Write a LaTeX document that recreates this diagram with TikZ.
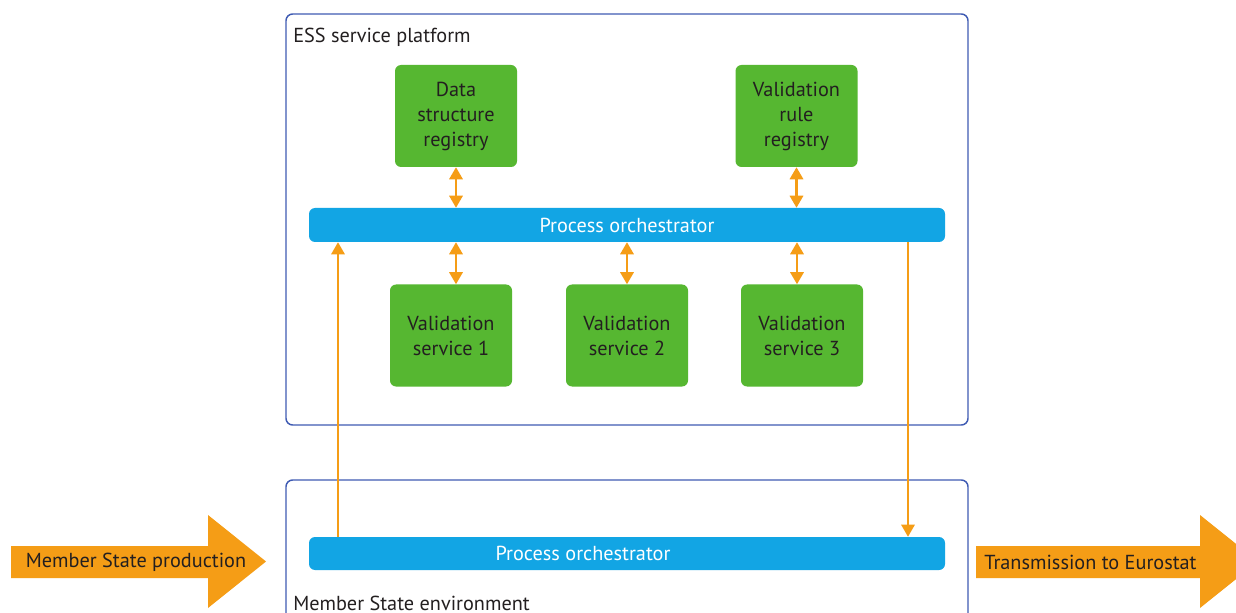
\documentclass[tikz,border=0pt]{standalone}
\usepackage{fontspec}
\setmainfont{PT Sans}
\usetikzlibrary{arrows.meta}
\definecolor{framec}{HTML}{3F5BB3}
\definecolor{grn}{HTML}{56B731}
\definecolor{blu}{HTML}{12A5E4}
\definecolor{org}{HTML}{F59D16}
\definecolor{txt}{HTML}{231F20}
\begin{document}
\begin{tikzpicture}[x=0.75pt,y=-0.75pt,
  font=\fontsize{15.2}{18.75}\selectfont,
  container/.style={draw=framec,line width=1.1pt,rounded corners=5pt,minimum width=511.5pt,inner sep=0pt},
  greenbox/.style={fill=grn,rounded corners=4.5pt,minimum width=91.5pt,minimum height=76.5pt,align=center,text=txt,inner sep=0pt},
  bar/.style={fill=blu,rounded corners=4.5pt,minimum width=477pt,inner sep=0pt},
  lbl/.style={text=txt,inner sep=0pt,anchor=west},
  dbl/.style={draw=org,line width=1.6pt,{Triangle[width=10pt,length=9pt]}-{Triangle[width=10pt,length=9pt]}},
  sgl/.style={draw=org,line width=1.4pt,-{Triangle[width=10pt,length=9pt]}},
  bigarrow/.style={fill=org}]
\clip (0,0) rectangle (1236,613);
\fill[white] (0,0) rectangle (1236,613);
% containers
\node[container,minimum height=308.25pt] (ess) at (627,219.5) {};
\node[container,minimum height=120pt] (ms) at (627,560) {};
\node[lbl] (esslbl) at (293,37) {ESS service platform};
\node[lbl] (mslbl) at (293,603) {Member State environment};
% green boxes
\node[greenbox] (dsr) at (456,116) {Data\\structure\\registry};
\node[greenbox] (vrr) at (796.5,116) {Validation\\rule\\registry};
\node[greenbox] (vs1) at (451,335.5) {Validation\\service 1};
\node[greenbox] (vs2) at (627,335.5) {Validation\\service 2};
\node[greenbox] (vs3) at (802,335.5) {Validation\\service 3};
% bars
\node[bar,minimum height=25.5pt] (orch1) at (627,225) {};
\node[text=white,inner sep=0pt] (orch1t) at (627,225) {Process orchestrator};
\node[bar,minimum height=24.75pt] (orch2) at (627,553.5) {};
\node[text=white,inner sep=0pt] (orch2t) at (583,553.5) {Process orchestrator};
% double arrows
\draw[dbl] (dsr.south) -- (dsr.south |- orch1.north);
\draw[dbl] (vrr.south) -- (vrr.south |- orch1.north);
\draw[dbl] ([xshift=3.75pt]vs1.north) -- ([xshift=3.75pt]vs1.north |- orch1.south);
\draw[dbl] (vs2.north) -- (vs2.north |- orch1.south);
\draw[dbl] ([xshift=-3.75pt]vs3.north) -- ([xshift=-3.75pt]vs3.north |- orch1.south);
% single arrows
\coordinate (upx) at (338,0);
\coordinate (dnx) at (908,0);
\draw[sgl] (upx |- orch2.north) -- (upx |- orch1.south);
\draw[sgl] (dnx |- orch1.south) -- (dnx |- orch2.north);
% big arrows
\fill[bigarrow] (11,546) -- (208,546) -- (208,515) -- (266,561.5) -- (208,608) -- (208,578) -- (11,578) -- cycle;
\node[text=txt,inner sep=0pt] (msprod) at (136,562) {Member State production};
\fill[bigarrow] (976,546) -- (1200,546) -- (1200,515) -- (1258,561.5) -- (1200,608) -- (1200,578) -- (976,578) -- cycle;
\node[text=txt,inner sep=0pt] (trans) at (1090.5,562) {Transmission to Eurostat};
\end{tikzpicture}
\end{document}
